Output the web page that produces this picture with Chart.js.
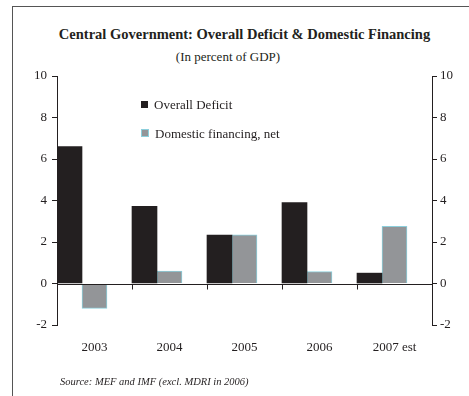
<!DOCTYPE html>
<html>
<head>
    <title>Central Government: Overall Deficit & Domestic Financing</title>
    <script src="https://cdn.jsdelivr.net/npm/chart.js"></script>
    <style>
        body {
            margin: 0;
            background-color: white;
            font-family: "Liberation Serif", serif;
            color: #231f20;
        }
        .page {
            position: relative;
            width: 469px;
            height: 396px;
            overflow: hidden;
        }
        .frame {
            position: absolute;
            left: 12px;
            top: 6px;
            width: 480px;
            height: 400px;
            border-left: 1px solid #555;
            border-top: 1px solid #555;
        }
        .title {
            position: absolute;
            top: 26px;
            left: 0;
            width: 489px;
            text-align: center;
            font-weight: bold;
            font-size: 14.5px;
        }
        .subtitle {
            position: absolute;
            top: 49px;
            left: 0;
            width: 456px;
            text-align: center;
            font-size: 13px;
        }
        .legend {
            position: absolute;
            left: 141px;
            font-size: 13px;
            line-height: 15px;
        }
        .legend span.box {
            display: inline-block;
            width: 7px;
            height: 7px;
            margin-right: 6px;
            vertical-align: 1px;
        }
        .source {
            position: absolute;
            left: 60px;
            top: 376px;
            font-size: 10.5px;
            font-style: italic;
        }
        canvas {
            position: absolute;
            left: 0;
            top: 0;
        }
    </style>
</head>
<body>
<div class="page">
    <div class="frame"></div>
    <div class="title">Central Government: Overall Deficit &amp; Domestic Financing</div>
    <div class="subtitle">(In percent of GDP)</div>
    <canvas id="deficitChart" width="469" height="396"></canvas>
    <div class="legend" style="top: 97px;"><span class="box" style="background:#231f20;"></span>Overall Deficit</div>
    <div class="legend" style="top: 126px;"><span class="box" style="background:#939598; border:1px solid #8ccfdc; width:6px; height:6px;"></span>Domestic financing, net</div>
    <div class="source">Source: MEF and IMF (excl. MDRI in 2006)</div>
</div>

<script>
    const years = ['2003', '2004', '2005', '2006', '2007 est'];
    const overallDeficit = [6.6, 3.72, 2.33, 3.9, 0.5];
    const domesticFinancing = [-1.2, 0.6, 2.35, 0.57, 2.75];
    const spacer = [null, null, null, null, null]; // keeps bars to the left of each category
    const yTicks = [-2, 0, 2, 4, 6, 8, 10];

    const axisColor = '#231f20';

    // zero line with small tick marks at category boundaries
    const zeroLine = {
        id: 'zeroLine',
        afterDatasetsDraw(chart) {
            const ctx = chart.ctx;
            const x = chart.scales.x;
            const y0 = Math.round(chart.scales.y.getPixelForValue(0)) + 0.5;
            ctx.save();
            ctx.strokeStyle = axisColor;
            ctx.lineWidth = 1;
            ctx.beginPath();
            ctx.moveTo(chart.chartArea.left, y0);
            ctx.lineTo(chart.chartArea.right, y0);
            for (let i = 0; i <= years.length; i++) {
                const px = Math.round(x.getPixelForValue(i - 0.5)) + 0.5;
                ctx.moveTo(px, y0);
                ctx.lineTo(px, y0 + 5);
            }
            ctx.stroke();
            ctx.restore();
        }
    };

    const tickFont = { family: 'Liberation Serif', size: 13 };

    new Chart(document.getElementById('deficitChart'), {
        type: 'bar',
        data: {
            labels: years,
            datasets: [
                {
                    label: 'Overall Deficit',
                    data: overallDeficit,
                    backgroundColor: '#231f20',
                    borderWidth: 0
                },
                {
                    label: 'Domestic financing, net',
                    data: domesticFinancing,
                    backgroundColor: '#939598',
                    borderColor: '#8ccfdc',
                    borderWidth: 1
                },
                {
                    label: '',
                    data: spacer
                }
            ]
        },
        options: {
            responsive: false,
            animation: false,
            barPercentage: 1,
            categoryPercentage: 1,
            layout: {
                padding: { top: 76, bottom: 31, left: 0, right: 0 }
            },
            plugins: {
                legend: { display: false },
                tooltip: { enabled: false }
            },
            scales: {
                x: {
                    grid: { display: false },
                    border: { display: false },
                    ticks: { color: axisColor, font: tickFont, padding: 7 },
                    afterFit: (s) => { s.height = 40; }
                },
                y: {
                    position: 'left',
                    min: -2,
                    max: 10,
                    afterBuildTicks: (s) => { s.ticks = yTicks.map(v => ({ value: v })); },
                    grid: { drawOnChartArea: false, tickLength: 5, color: axisColor },
                    border: { display: true, color: axisColor },
                    ticks: {
                        color: axisColor, font: tickFont, padding: 5,
                        callback: (v) => v
                    },
                    afterFit: (s) => { s.width = 57; }
                },
                y2: {
                    position: 'right',
                    min: -2,
                    max: 10,
                    afterBuildTicks: (s) => { s.ticks = yTicks.map(v => ({ value: v })); },
                    grid: { drawOnChartArea: false, tickLength: 5, color: axisColor },
                    border: { display: true, color: axisColor },
                    ticks: {
                        color: axisColor, font: tickFont, padding: 3,
                        callback: (v) => v
                    },
                    afterFit: (s) => { s.width = 37; }
                }
            }
        },
        plugins: [zeroLine]
    });
</script>
</body>
</html>
